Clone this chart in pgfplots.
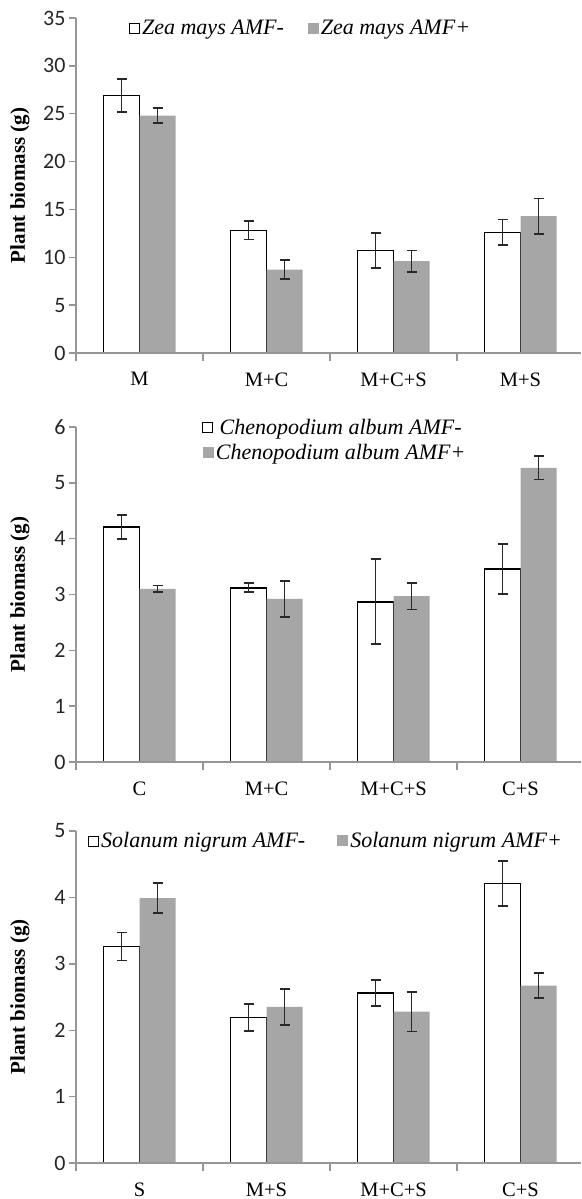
\documentclass[border=0pt]{standalone}
\usepackage{fontspec}
\setmainfont{Liberation Serif}
\newfontfamily\carlito{Carlito}
\usepackage{pgfplots}
\pgfplotsset{compat=1.18}
\definecolor{barg}{RGB}{166,166,166}
\definecolor{axg}{RGB}{150,150,150}
\definecolor{errc}{RGB}{40,40,40}

\pgfplotsset{
  panel/.style={
    scale only axis, width=505pt,
    axis lines*=left, axis on top,
    axis line style={axg, line width=1.4pt},
    xmin=-0.5, xmax=3.476, ymin=0,
    xtick={0,1,2,3},
    major x tick style={draw=none},
    minor xtick={-0.5,0.5,1.5,2.5},
    minor x tick style={axg, line width=1.4pt},
    tick align=outside,
    minor tick length=8pt, major tick length=7pt,
    ytick style={axg, line width=1.4pt},
    yticklabel style={font=\carlito\fontsize{22}{22}\selectfont, text=black!85},
    xticklabel style={font=\fontsize{20.5}{20.5}\selectfont, yshift=-9pt},
    /pgf/number format/assume math mode=true,
    ylabel={\bfseries Plant biomass (g)},
    every axis y label/.style={at={(axis description cs:0,0.5)}, xshift=-56pt,
      rotate=90, anchor=center, font=\fontsize{21}{21}\selectfont},
    ybar, bar width=36pt,
    legend style={draw=none, fill=none, inner sep=0pt,
      font=\itshape\fontsize{22}{22}\selectfont},
    clip=false,
  },
  errstyle/.style={
    error bars/.cd, y dir=both, y explicit,
    error bar style={draw=errc, line width=1.8pt},
    error mark options={draw=errc, line width=1.8pt, rotate=90, mark size=5pt}},
  barminus/.style={fill=white, draw=black, line width=1.6pt, bar shift=-18pt,
    legend image code/.code={\draw[black, line width=0.9pt, fill=white] (0pt,-5pt) rectangle (10pt,5pt);},
    errstyle},
  barplus/.style={fill=barg, draw=none, bar shift=18pt,
    legend image code/.code={\fill[barg] (0pt,-5.5pt) rectangle (11pt,5.5pt);},
    errstyle},
}

\begin{document}
\begin{tikzpicture}
\useasboundingbox (0,0) rectangle (581pt,1199pt);

% Zea mays
\begin{axis}[panel, at={(76pt,846pt)}, anchor=south west, height=335pt,
  ymax=35, ytick distance=5,
  xticklabels={M,M+C,M+C+S,M+S},
  legend columns=2,
  legend style={at={(0.105,0.97)}, anchor=west,
    /tikz/every even column/.append style={column sep=22pt}}]
\addplot[barminus] coordinates {
  (0,26.9) +- (0,1.7)
  (1,12.8) +- (0,0.95)
  (2,10.7) +- (0,1.85)
  (3,12.6) +- (0,1.35)};
\addplot[barplus] coordinates {
  (0,24.8) +- (0,0.8)
  (1,8.7) +- (0,1.0)
  (2,9.6) +- (0,1.1)
  (3,14.3) +- (0,1.85)};
\legend{Zea mays AMF-, Zea mays AMF+}
\end{axis}

% Chenopodium album
\begin{axis}[panel, at={(76pt,437pt)}, anchor=south west, height=335pt,
  ymax=6, ytick distance=1,
  xticklabels={C,M+C,M+C+S,C+S},
  legend columns=1,
  legend style={at={(0.25,1.03)}, anchor=north west, row sep=4pt}]
\addplot[barminus] coordinates {
  (0,4.21) +- (0,0.21)
  (1,3.12) +- (0,0.08)
  (2,2.87) +- (0,0.76)
  (3,3.46) +- (0,0.45)};
\addplot[barplus] coordinates {
  (0,3.10) +- (0,0.06)
  (1,2.92) +- (0,0.32)
  (2,2.97) +- (0,0.24)
  (3,5.27) +- (0,0.21)};
\legend{Chenopodium album AMF-, Chenopodium album AMF+}
\end{axis}

% Solanum nigrum
\begin{axis}[panel, at={(76pt,36pt)}, anchor=south west, height=332pt,
  ymax=5, ytick distance=1,
  xticklabels={S,M+S,M+C+S,C+S},
  legend columns=2,
  legend style={at={(0.024,0.97)}, anchor=west,
    /tikz/every even column/.append style={column sep=30pt}}]
\addplot[barminus] coordinates {
  (0,3.26) +- (0,0.21)
  (1,2.19) +- (0,0.20)
  (2,2.56) +- (0,0.20)
  (3,4.21) +- (0,0.34)};
\addplot[barplus] coordinates {
  (0,3.99) +- (0,0.23)
  (1,2.35) +- (0,0.27)
  (2,2.28) +- (0,0.30)
  (3,2.67) +- (0,0.19)};
\legend{Solanum nigrum AMF-, Solanum nigrum AMF+}
\end{axis}
\end{tikzpicture}
\end{document}
